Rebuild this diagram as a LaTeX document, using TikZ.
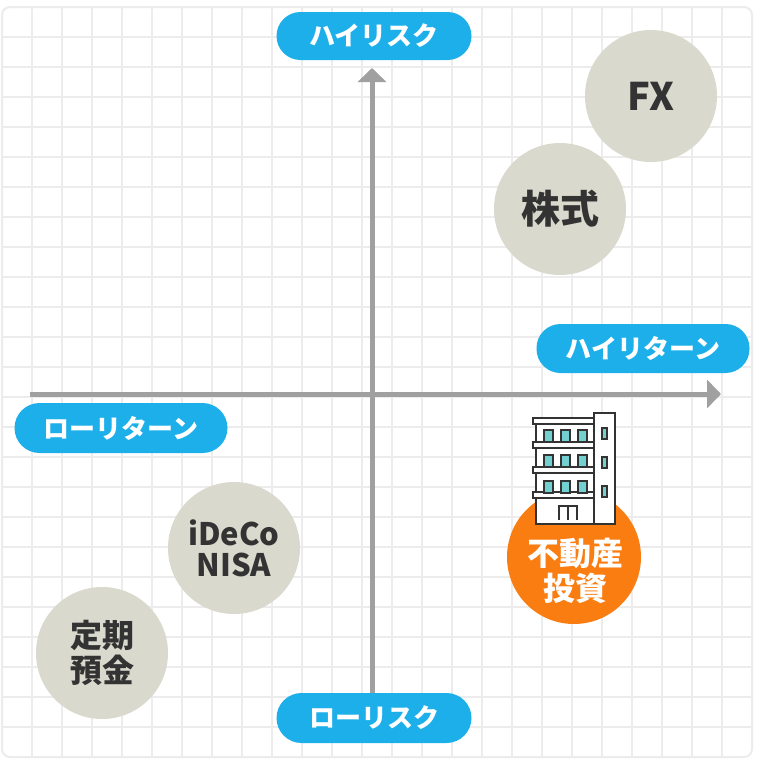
\documentclass[tikz,border=0pt]{standalone}
\usepackage{fontspec}
\setmainfont{Noto Sans CJK JP}
\usetikzlibrary{arrows.meta}
\definecolor{gridc}{HTML}{ECECEC}
\definecolor{pillblue}{HTML}{1DAFEA}
\definecolor{axisgray}{HTML}{A0A0A0}
\definecolor{circgray}{HTML}{D9D9CD}
\definecolor{textdark}{HTML}{333333}
\definecolor{orangec}{HTML}{FA7D12}
\definecolor{winteal}{HTML}{72D0D0}
\definecolor{bldline}{HTML}{333333}
\tikzset{
  gridline/.style={draw=gridc, line width=2pt},
  axisline/.style={draw=axisgray, line width=5pt, -{Triangle[width=28pt,length=14pt]}},
  pill/.style={fill=pillblue, rounded corners=24pt, minimum height=49pt, inner sep=0pt,
    text=white, font=\bfseries\fontsize{26}{30}\selectfont},
  bubble/.style={circle, fill=circgray, minimum size=132pt, inner sep=0pt, text=textdark, align=center},
  bld/.style={draw=bldline, line width=2pt, fill=white},
  win/.style={draw=bldline, line width=2pt, fill=winteal},
}
\begin{document}
\begin{tikzpicture}[x=1pt,y=-1pt]
\useasboundingbox (0,0) rectangle (761,761);
\fill[white] (0,0) rectangle (761,761);
% grid
\begin{scope}
  \clip[rounded corners=8pt] (2,7) rectangle (752,757);
  \foreach \gx in {32,62,...,722} {
    \draw[gridline] (\gx,7) -- (\gx,757);
  }
  \foreach \gy in {37,67,...,727} {
    \draw[gridline] (2,\gy) -- (752,\gy);
  }
\end{scope}
\draw[gridline, rounded corners=8pt] (2,7) rectangle (752,757);
% axes
\coordinate (vbot) at (372,705);
\coordinate (vtop) at (372,68);
\coordinate (hleft) at (30,394);
\coordinate (hright) at (721,394);
\draw[axisline] (vbot) -- (vtop);
\draw[axisline] (hleft) -- (hright);
% pills
\node[pill, minimum width=195pt, minimum height=48pt] (highrisk) at (374,36) {ハイリスク};
\node[pill, minimum width=195pt, minimum height=50pt, rounded corners=25pt] (lowrisk) at (374,718) {ローリスク};
\node[pill, minimum width=213pt] (highreturn) at (643,348.5) {ハイリターン};
\node[pill, minimum width=213pt, minimum height=50pt, rounded corners=25pt] (lowreturn) at (121,428) {ローリターン};
% bubbles
\node[bubble, font=\bfseries\fontsize{38}{40}\selectfont] (fx) at (651,96) {FX};
\node[bubble, font=\bfseries\fontsize{39}{42}\selectfont] (stock) at (560,209) {株式};
\node[bubble, font=\bfseries\fontsize{31}{31}\selectfont] (ideco) at (234,548) {iDeCo\\NISA};
\node[bubble, font=\bfseries\fontsize{32}{35}\selectfont] (teiki) at (102,653) {定期\\預金};
\node[circle, fill=orangec, minimum size=134pt, inner sep=0pt] (realestate) at (574,557) {};
\node[text=white, align=center, font=\bfseries\fontsize{32}{35}\selectfont] (realestatelabel) at (575,571) {不動産\\投資};
% building
\filldraw[bld] (536,424) rectangle (594,524);
\filldraw[bld] (533,418) rectangle (596,424);
\foreach \yy in {442,467,492} {
  \filldraw[bld] (533,\yy) rectangle (594,{\yy+6});
}
\foreach \yy in {430,455,481} {
  \foreach \xx in {544,561,578} {
    \filldraw[win] (\xx,\yy) rectangle ({\xx+9},{\yy+12});
  }
}
\draw[draw=bldline, line width=2pt] (559,520) -- (559,506) -- (577,506) -- (577,520);
\draw[draw=bldline, line width=2pt] (568,506) -- (568,520);
\filldraw[bld] (594,413) rectangle (615,524);
\foreach \yy in {428,457,486} {
  \filldraw[win] (602,\yy) rectangle (607,{\yy+11});
}
\end{tikzpicture}
\end{document}
